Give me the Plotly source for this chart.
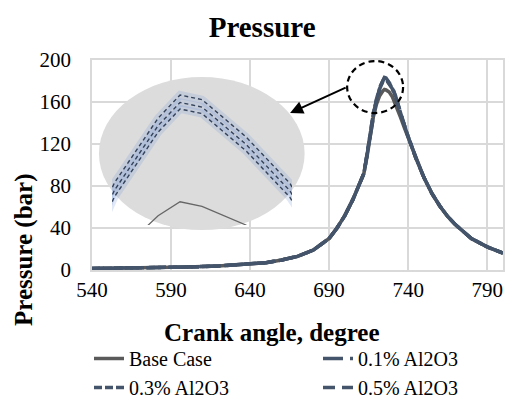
import plotly.graph_objects as go

# ---------------- data ----------------
crank_angle = [540, 560, 580, 600, 620, 640, 650, 660, 670, 680, 685, 690, 695, 700, 705,
               710, 712, 714, 716, 718, 720, 722, 724, 725, 726, 728, 730, 732, 735, 738,
               740, 745, 750, 755, 760, 765, 770, 780, 790, 800]

base_case = [1.5, 1.8, 2.2, 2.8, 3.8, 5.5, 7.0, 9.5, 13, 19, 24, 30, 40, 52, 67,
             84, 92, 108, 125, 146, 158, 166, 170.5, 172, 171.5, 169.5, 165, 158, 146, 134,
             126, 106, 88, 73, 61, 51, 43, 30, 22, 16]

al2o3_01 = [1.5, 1.8, 2.2, 2.8, 3.8, 5.5, 7.0, 9.5, 13, 19, 24, 30, 40, 52, 67,
            84, 92, 110, 128, 150, 163, 174, 181, 183.5, 183, 179, 174, 166, 150, 136,
            127, 106, 88, 73, 61, 51, 43, 30, 22, 16]

al2o3_03 = [1.5, 1.8, 2.2, 2.8, 3.8, 5.5, 7.0, 9.5, 13, 19, 24, 30, 40, 52, 67,
            84, 92, 110, 128, 149.5, 162.3, 173.2, 180.2, 182.7, 182.2, 178.2, 173.2, 165.3, 149.5, 136,
            127, 106, 88, 73, 61, 51, 43, 30, 22, 16]

al2o3_05 = [1.5, 1.8, 2.2, 2.8, 3.8, 5.5, 7.0, 9.5, 13, 19, 24, 30, 40, 52, 67,
            84, 92, 110, 128, 149, 161.6, 172.5, 179.5, 182.0, 181.5, 177.5, 172.5, 164.6, 149, 136,
            127, 106, 88, 73, 61, 51, 43, 30, 22, 16]

series_names = ["Base Case", "0.1% Al2O3", "0.3% Al2O3", "0.5% Al2O3"]
x_ticks = [540, 590, 640, 690, 740, 790]
y_ticks = [0, 40, 80, 120, 160, 200]

# ---------------- styles ----------------
FONT = "Liberation Serif"
GREY = "#5a5a5a"
SLATE = "#44546a"
GRID = "#d9d9d9"

series = [
    (base_case, series_names[0], GREY, "solid"),
    (al2o3_01, series_names[1], SLATE, "20px,7px"),
    (al2o3_03, series_names[2], SLATE, "8px,3px"),
    (al2o3_05, series_names[3], SLATE, "12px,7px"),
]

fig = go.Figure()

# main traces
for vals, name, col, dash in series:
    fig.add_trace(go.Scatter(x=crank_angle, y=vals, name=name, mode="lines",
                             line=dict(color=col, width=3.5, dash=dash),
                             xaxis="x", yaxis="y"))

# inset (zoom of the peak): blue halo + thin dashed lines
for vals, name, col, dash in series[1:]:
    fig.add_trace(go.Scatter(x=crank_angle, y=vals, mode="lines", showlegend=False,
                             hoverinfo="skip",
                             line=dict(color="rgba(120,150,215,0.22)", width=8),
                             xaxis="x2", yaxis="y2"))
for vals, name, col, dash in series[1:]:
    fig.add_trace(go.Scatter(x=crank_angle, y=vals, mode="lines", showlegend=False,
                             hoverinfo="skip",
                             line=dict(color="#34425a", width=1.4, dash="4px,3px"),
                             xaxis="x2", yaxis="y2"))
fig.add_trace(go.Scatter(x=crank_angle, y=base_case, mode="lines", showlegend=False,
                         hoverinfo="skip", line=dict(color="#666666", width=1.3),
                         xaxis="x2", yaxis="y2"))

axis_font = dict(family=FONT, size=21, color="black")

fig.update_layout(
    width=508, height=398,
    margin=dict(l=92, r=5, t=60, b=128, autoexpand=False),
    paper_bgcolor="white",
    plot_bgcolor="rgba(0,0,0,0)",
    font=dict(family=FONT, color="black"),
    title=dict(text="<b>Pressure</b>", font=dict(family=FONT, size=29, color="black"),
               xref="container", x=0.516, xanchor="center",
               yref="container", y=1 - 27 / 398, yanchor="middle"),
    xaxis=dict(range=[540, 800], tickvals=x_ticks, ticks="", showgrid=True,
               gridcolor=GRID, gridwidth=1.5, showline=True, linecolor=GRID,
               linewidth=1.5, mirror=True, zeroline=False, tickfont=axis_font,
               ticklabelstandoff=0),
    yaxis=dict(range=[0, 200], tickvals=y_ticks, ticks="", showgrid=True,
               gridcolor=GRID, gridwidth=1.5, showline=True, linecolor=GRID,
               linewidth=1.5, mirror=True, zeroline=False, tickfont=axis_font,
               ticklabelstandoff=15),
    xaxis2=dict(domain=[(112 - 92) / 411, (292 - 92) / 411], range=[721.9, 730.1],
                visible=False, showgrid=False, anchor="y2"),
    yaxis2=dict(domain=[(270 - 225) / 210, (270 - 82) / 210], range=[169.5, 184.9],
                visible=False, showgrid=False, anchor="x2"),
    legend=dict(orientation="h", xref="paper", x=(89 - 92) / 411, xanchor="left",
                yref="paper", y=(270 - 339) / 210, yanchor="top",
                entrywidth=184, entrywidthmode="pixels",
                font=dict(family=FONT, size=20, color="black"),
                bgcolor="rgba(0,0,0,0)", tracegroupgap=0),
    showlegend=True,
)

# magnified ellipse (inset background)
fig.add_shape(type="circle", xref="x", yref="y", x0=544.4, x1=674.5, y0=38, y1=183.8,
              fillcolor="#dcdcdc", line=dict(width=0), layer="between")
# dashed circle around the peak
fig.add_shape(type="circle", xref="x", yref="y", x0=701.4, x1=736.8, y0=149.5, y1=199,
              line=dict(color="black", width=2.2, dash="6px,4px"), layer="above")
# arrow
fig.add_annotation(x=665.3, y=149.5, ax=701.4, ay=174.3, xref="x", yref="y",
                   axref="x", ayref="y", text="", showarrow=True,
                   arrowhead=2, arrowsize=1.3, arrowwidth=2, arrowcolor="black")

# axis titles
fig.add_annotation(text="<b>Crank angle, degree</b>", xref="paper", yref="paper",
                   x=(272 - 92) / 411, y=(270 - 332) / 210, xanchor="center",
                   yanchor="middle", showarrow=False,
                   font=dict(family=FONT, size=25, color="black"))
fig.add_annotation(text="<b>Pressure (bar)</b>", xref="paper", yref="paper",
                   x=(24 - 92) / 411, y=(270 - 250) / 210, xanchor="center",
                   yanchor="middle", showarrow=False, textangle=-90,
                   font=dict(family=FONT, size=25, color="black"))

fig.write_html("out.html", post_script="document.body.style.margin='0';",
               config={"displayModeBar": False})
